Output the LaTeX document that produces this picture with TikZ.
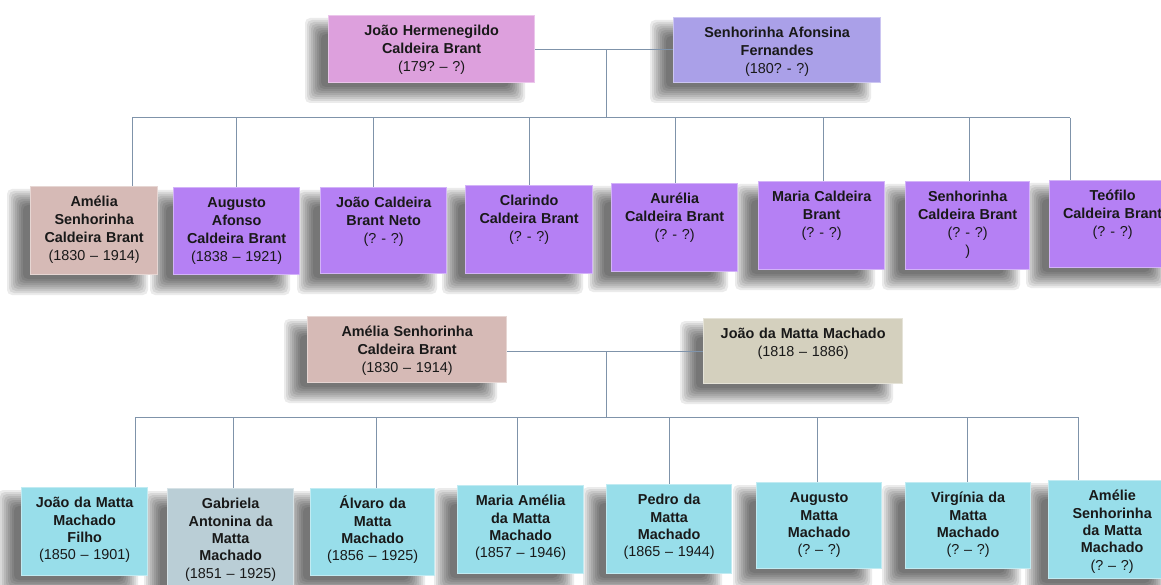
\documentclass[tikz,border=0pt]{standalone}
\usepackage{fontspec}
\setmainfont{Liberation Sans}
\frenchspacing
\definecolor{cPlum}{RGB}{221,160,221}
\definecolor{cPeri}{RGB}{170,160,232}
\definecolor{cPur}{RGB}{181,128,244}
\definecolor{cAm}{RGB}{214,186,182}
\definecolor{cJm}{RGB}{212,208,190}
\definecolor{cCy}{RGB}{152,222,234}
\definecolor{cGab}{RGB}{186,206,214}
\definecolor{cLine}{RGB}{127,147,170}
\definecolor{cText}{RGB}{25,25,25}
\pgfdeclarelayer{back}
\pgfdeclarelayer{shade}
\pgfsetlayers{back,shade,main}
\tikzset{
  pbox/.style={rectangle, fill=#1, draw=#1!60!white, line width=1.3pt,
    inner xsep=3pt, inner ysep=0pt, align=center, text=cText,
    anchor=north west, font=\bfseries\fontsize{14.4}{18}\selectfont},
  lowbox/.style={pbox=#1, font=\bfseries\fontsize{14.4}{17.4}\selectfont},
  conn/.style={draw=cLine, line width=1pt},
  shadowlayer/.style={fill=black, opacity=0.078, rounded corners=5pt}
}
\newcommand\dt[1]{{\mdseries #1}}
\newcommand\Pbox[7]{%
  \pgfmathsetmacro\tw{#4-6}\pgfmathsetmacro\td{#5-20}%
  \begin{pgfonlayer}{shade}
    \foreach \r in {9,7,...,-7}
      \fill[shadowlayer] ({#2-14-(\r)},{#3+12-(\r)}) rectangle ({#2+#4-18+(\r)},{#3+#5+12+(\r)});
  \end{pgfonlayer}
  \node[#6, minimum width=#4pt, text width=\tw pt, text height=20pt, text depth=\td pt] (#1) at (#2,#3) {#7};}
\begin{document}
\begin{tikzpicture}[x=1pt,y=-1pt]
\useasboundingbox (0,0) rectangle (1161,585);
\clip (0,0) rectangle (1161,585);
\begin{pgfonlayer}{back}
\fill[white] (0,0) rectangle (1161,585);
\end{pgfonlayer}

% ---------- connector points ----------
\coordinate (t1) at (606,50);
\coordinate (r1) at (606,118);
\foreach \i/\x in {1/132,2/236,3/373,4/529,5/675,6/823,7/969,8/1070}
  \coordinate (d\i) at (\x,118);
\coordinate (t2) at (606,351);
\coordinate (r2) at (606,417);
\foreach \i/\x in {1/135,2/233,3/376,4/517,5/669,6/817,7/967,8/1078}
  \coordinate (e\i) at (\x,417);

% ---------- generation 1 ----------
\Pbox{jh}{328}{15}{206}{67}{pbox=cPlum}{João Hermenegildo\\Caldeira Brant\\\dt{(179? – ?)}}
\Pbox{sa}{673}{17}{207}{65}{pbox=cPeri}{Senhorinha Afonsina\\Fernandes\\\dt{(180? - ?)}}

% ---------- children row 1 ----------
\Pbox{a1}{30}{186}{127}{88}{pbox=cAm}{Amélia\\Senhorinha\\Caldeira Brant\\\dt{(1830 – 1914)}}
\Pbox{a2}{173}{187}{126}{87}{pbox=cPur}{Augusto\\Afonso\\Caldeira Brant\\\dt{(1838 – 1921)}}
\Pbox{a3}{320}{187}{126}{86}{pbox=cPur}{João Caldeira\\Brant Neto\\\dt{(? - ?)}}
\Pbox{a4}{465}{185}{127}{88}{pbox=cPur}{Clarindo\\Caldeira Brant\\\dt{(? - ?)}}
\Pbox{a5}{611}{183}{126}{88}{pbox=cPur}{Aurélia\\Caldeira Brant\\\dt{(? - ?)}}
\Pbox{a6}{758}{181}{126}{88}{pbox=cPur}{Maria Caldeira\\Brant\\\dt{(? - ?)}}
\Pbox{a7}{905}{181}{124}{88}{pbox=cPur}{Senhorinha\\Caldeira Brant\\\dt{(? - ?)}\\\dt{)}}
\Pbox{a8}{1049}{180}{126}{87}{pbox=cPur}{Teófilo\\Caldeira Brant\\\dt{(? - ?)}}

% ---------- second couple ----------
\Pbox{am}{307}{316}{199}{66}{pbox=cAm}{Amélia Senhorinha\\Caldeira Brant\\\dt{(1830 – 1914)}}
\Pbox{jm}{703}{318}{199}{65}{pbox=cJm}{João da Matta Machado\\\dt{(1818 – 1886)}}

% ---------- children row 2 ----------
\Pbox{b1}{21}{487}{126}{88}{lowbox=cCy}{João da Matta\\Machado\\Filho\\\dt{(1850 – 1901)}}
\Pbox{b2}{167}{488}{126}{100}{lowbox=cGab}{Gabriela\\Antonina da\\Matta\\Machado\\\dt{(1851 – 1925)}}
\Pbox{b3}{310}{488}{124}{87}{lowbox=cCy}{Álvaro da\\Matta\\Machado\\\dt{(1856 – 1925)}}
\Pbox{b4}{457}{485}{126}{88}{lowbox=cCy}{Maria Amélia\\da Matta\\Machado\\\dt{(1857 – 1946)}}
\Pbox{b5}{606}{484}{125}{89}{lowbox=cCy}{Pedro da\\Matta\\Machado\\\dt{(1865 – 1944)}}
\Pbox{b6}{756}{482}{125}{86}{lowbox=cCy}{Augusto\\Matta\\Machado\\\dt{(? – ?)}}
\Pbox{b7}{905}{482}{125}{86}{lowbox=cCy}{Virgínia da\\Matta\\Machado\\\dt{(? – ?)}}
\Pbox{b8}{1048}{480}{127}{98}{lowbox=cCy}{Amélie\\Senhorinha\\da Matta\\Machado\\\dt{(? – ?)}}

% ---------- connector lines ----------
\draw[conn] (jh.east |- t1) -- (sa.west |- t1);
\draw[conn] (t1) -- (r1);
\draw[conn] (d1) -- (d8);
\foreach \i in {1,...,8} \draw[conn] (d\i) -- (d\i |- a\i.north);

\draw[conn] (am.east |- t2) -- (jm.west |- t2);
\draw[conn] (t2) -- (r2);
\draw[conn] (e1) -- (e8);
\foreach \i in {1,...,8} \draw[conn] (e\i) -- (e\i |- b\i.north);
\end{tikzpicture}
\end{document}
